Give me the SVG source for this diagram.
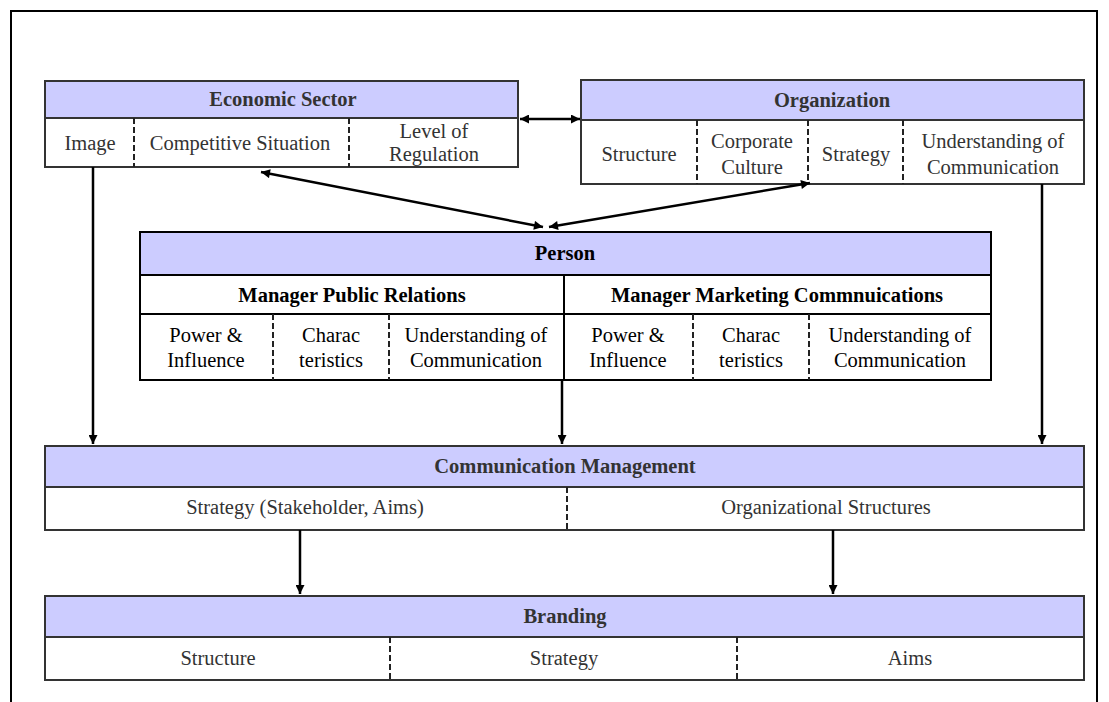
<svg xmlns="http://www.w3.org/2000/svg" width="1109" height="702" viewBox="0 0 1109 702">
<defs>
<marker id="ah" viewBox="0 0 10 10" refX="10" refY="5" markerWidth="4.2" markerHeight="3.6" orient="auto-start-reverse" markerUnits="strokeWidth">
<path d="M0,0 L10,5 L0,10 z" fill="#000"/>
</marker>
<style>
.hdr{fill:#ccccff;stroke:#333;stroke-width:2}
.row{fill:#fff;stroke:#333;stroke-width:2}
.hdrk{fill:#ccccff;stroke:#000;stroke-width:2}
.rowk{fill:#fff;stroke:#000;stroke-width:2}
.dash{stroke:#222;stroke-width:2;stroke-dasharray:6,3;fill:none}
.solid{stroke:#000;stroke-width:2;fill:none}
text{font-family:"Liberation Serif","Times New Roman","DejaVu Serif",serif;font-size:20.5px;text-anchor:middle;fill:#333}
.b{font-weight:bold}
.k{fill:#000}
.conn{stroke:#000;stroke-width:2.5;fill:none;marker-end:url(#ah)}
.conn2{stroke:#000;stroke-width:2.5;fill:none;marker-end:url(#ah);marker-start:url(#ah)}
</style>
</defs>
<rect x="11" y="11" width="1086" height="705" fill="none" stroke="#000" stroke-width="2"/>

<g id="economic-sector">
<rect class="row" x="45" y="118" width="473" height="49"/>
<rect class="hdr" x="45" y="81" width="473" height="37"/>
<line class="dash" x1="134" y1="118" x2="134" y2="167"/>
<line class="dash" x1="349" y1="118" x2="349" y2="167"/>
<text class="b" x="283" y="106">Economic Sector</text>
<text x="90" y="150">Image</text>
<text x="240" y="150">Competitive Situation</text>
<text x="434" y="138">Level of</text>
<text x="434" y="161">Regulation</text>
</g>

<g id="organization">
<rect class="row" x="581" y="120" width="503" height="64"/>
<rect class="hdr" x="581" y="80" width="503" height="40"/>
<line class="dash" x1="697" y1="120" x2="697" y2="184"/>
<line class="dash" x1="808" y1="120" x2="808" y2="184"/>
<line class="dash" x1="903" y1="120" x2="903" y2="184"/>
<text class="b" x="832" y="107">Organization</text>
<text x="639" y="161">Structure</text>
<text x="752" y="148">Corporate</text>
<text x="752" y="174">Culture</text>
<text x="856" y="161">Strategy</text>
<text x="993" y="148">Understanding of</text>
<text x="993" y="174">Communication</text>
</g>

<g id="person">
<rect class="rowk" x="140" y="275" width="851" height="105"/>
<rect class="hdrk" x="140" y="232" width="851" height="43"/>
<line class="solid" x1="140" y1="314" x2="991" y2="314"/>
<line class="solid" x1="564" y1="275" x2="564" y2="380"/>
<line class="dash" x1="273" y1="314" x2="273" y2="380"/>
<line class="dash" x1="389" y1="314" x2="389" y2="380"/>
<line class="dash" x1="693" y1="314" x2="693" y2="380"/>
<line class="dash" x1="809" y1="314" x2="809" y2="380"/>
<text class="b k" x="565" y="260">Person</text>
<text class="b k" x="352" y="302">Manager Public Relations</text>
<text class="b k" x="777" y="302">Manager Marketing Commnuications</text>
<text class="k" x="206" y="342">Power &amp;</text>
<text class="k" x="206" y="367">Influence</text>
<text class="k" x="331" y="342">Charac</text>
<text class="k" x="331" y="367">teristics</text>
<text class="k" x="476" y="342">Understanding of</text>
<text class="k" x="476" y="367">Communication</text>
<text class="k" x="628" y="342">Power &amp;</text>
<text class="k" x="628" y="367">Influence</text>
<text class="k" x="751" y="342">Charac</text>
<text class="k" x="751" y="367">teristics</text>
<text class="k" x="900" y="342">Understanding of</text>
<text class="k" x="900" y="367">Communication</text>
</g>

<g id="communication-management">
<rect class="row" x="45" y="487" width="1039" height="43"/>
<rect class="hdr" x="45" y="446" width="1039" height="41"/>
<line class="dash" x1="567" y1="487" x2="567" y2="530"/>
<text class="b" x="565" y="473">Communication Management</text>
<text x="305" y="514">Strategy (Stakeholder, Aims)</text>
<text x="826" y="514">Organizational Structures</text>
</g>

<g id="branding">
<rect class="row" x="45" y="637" width="1039" height="43"/>
<rect class="hdr" x="45" y="596" width="1039" height="41"/>
<line class="dash" x1="390" y1="637" x2="390" y2="680"/>
<line class="dash" x1="737" y1="637" x2="737" y2="680"/>
<text class="b" x="565" y="623">Branding</text>
<text x="218" y="665">Structure</text>
<text x="564" y="665">Strategy</text>
<text x="910" y="665">Aims</text>
</g>

<g id="connectors">
<line class="conn2" x1="520" y1="119" x2="580" y2="119"/>
<line class="conn2" x1="543" y1="227" x2="261" y2="172"/>
<line class="conn2" x1="549" y1="227" x2="810" y2="183"/>
<line class="conn" x1="93" y1="167" x2="93" y2="444"/>
<line class="conn" x1="562" y1="380" x2="562" y2="444"/>
<line class="conn" x1="1042" y1="184" x2="1042" y2="444"/>
<line class="conn" x1="300" y1="530" x2="300" y2="594"/>
<line class="conn" x1="833" y1="530" x2="833" y2="594"/>
</g>
</svg>
